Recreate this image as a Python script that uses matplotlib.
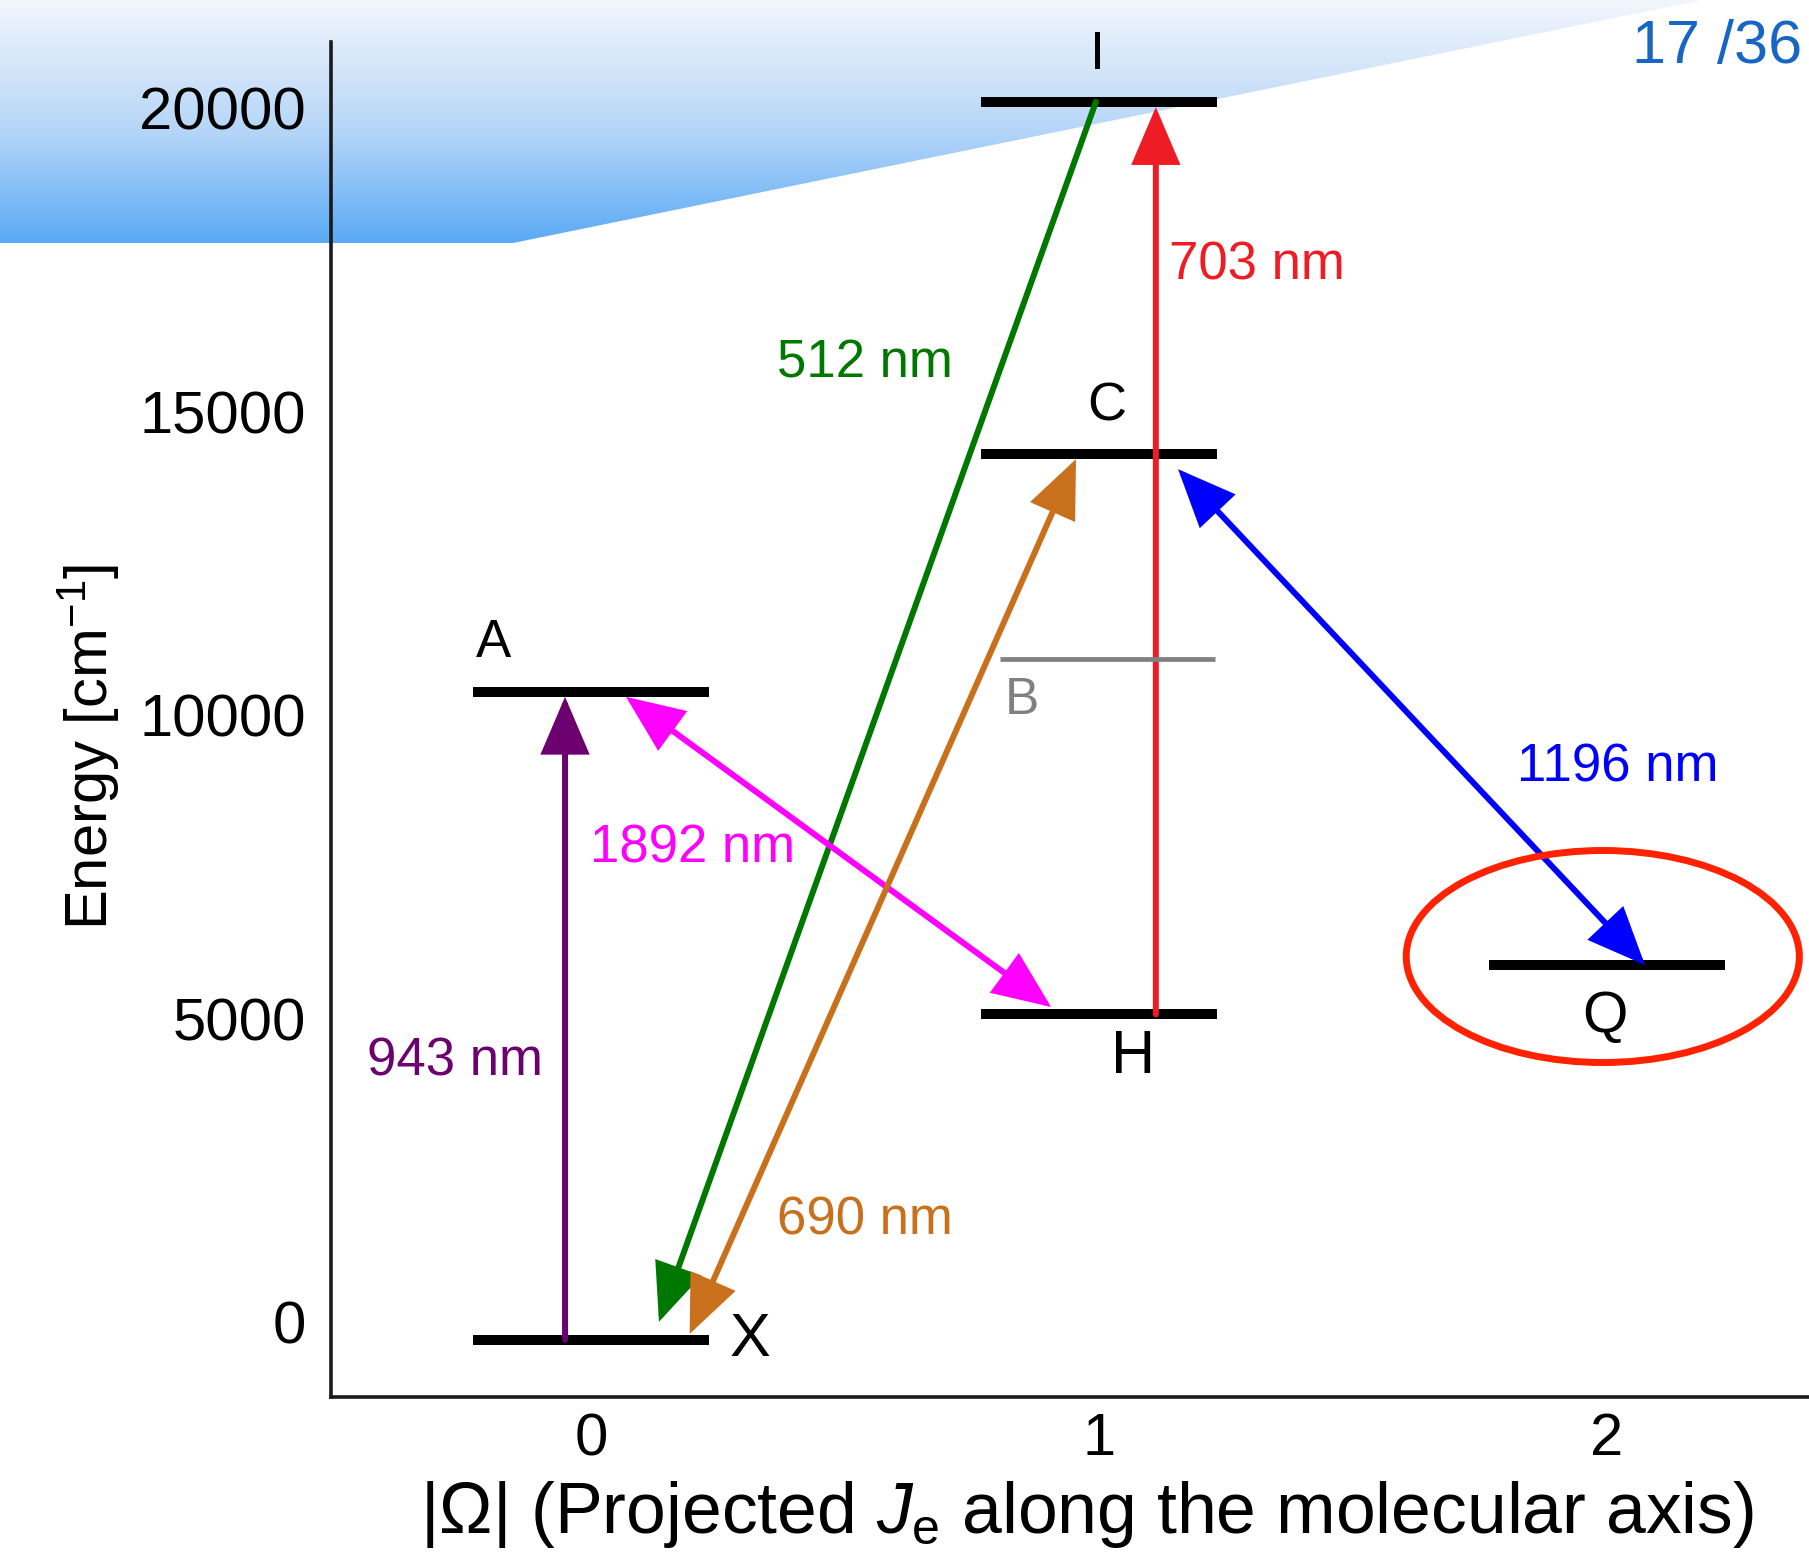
import numpy as np
import matplotlib
matplotlib.use('Agg')
import matplotlib.pyplot as plt
from matplotlib.patches import Ellipse, Polygon

plt.rcParams['font.family'] = ['Liberation Sans', 'DejaVu Sans']
plt.rcParams['mathtext.fontset'] = 'custom'
plt.rcParams['mathtext.rm'] = 'Liberation Sans'
plt.rcParams['mathtext.it'] = 'Liberation Sans:italic'

# ---------------- data ----------------
state_names = ['X', 'H', 'Q', 'A', 'B', 'C', 'I']
state_omega = [0, 1, 2, 0, 1, 1, 1]
state_energy = [-290, 5070, 5885, 10390, 10925, 14300, 20105]

transition_labels = ['943 nm', '512 nm', '703 nm', '1892 nm', '690 nm', '1196 nm']
transition_from = ['X', 'I', 'H', 'A', 'X', 'C']
transition_to = ['A', 'X', 'I', 'H', 'C', 'Q']
transition_double = [False, False, False, True, True, True]
transition_colors = ['#6B006E', '#007800', '#EE1C24', '#FF00FF', '#C8701C', '#0000FF']

y_ticks = [0, 5000, 10000, 15000, 20000]
x_ticks = [0, 1, 2]
page_label = '17 /36'

# ---------------- layout / style ----------------
W, H = 1809, 1553
fig = plt.figure(figsize=(W / 100, H / 100), dpi=100)

# background gradient banner (figure pixel coords)
bg = fig.add_axes([0, 0, 1, 1], zorder=0)
bg.set_xlim(0, W)
bg.set_ylim(H, 0)
bg.axis('off')
stops = np.array([0.0, 0.27, 0.55, 0.82, 1.0])
cols = np.array([[242, 246, 253], [213, 230, 250], [179, 213, 248],
                 [125, 187, 246], [90, 169, 245]]) / 255.0
t = np.linspace(0, 1, 256)
grad = np.stack([np.interp(t, stops, cols[:, k]) for k in range(3)], axis=-1)[:, None, :]
im = bg.imshow(grad, extent=(0, W, 243, 0), aspect='auto', interpolation='bilinear')
clip = Polygon([(0, 0), (1702, 0), (513, 243), (0, 243)], closed=True,
               transform=bg.transData, facecolor='none', edgecolor='none')
bg.add_patch(clip)
im.set_clip_path(clip)

ax = fig.add_axes([331 / W, 1 - 1397 / H, 1 - 331 / W, (1397 - 42) / H], zorder=1)
ax.set_facecolor('none')
ax.set_xlim(-0.512, 2.398)
ax.set_ylim(-1232, 21091)
for s in ['top', 'right']:
    ax.spines[s].set_visible(False)
for s in ['left', 'bottom']:
    ax.spines[s].set_linewidth(2.6)
    ax.spines[s].set_color('#1a1a1a')
ax.set_xticks(x_ticks)
ax.set_xticklabels([str(v) for v in x_ticks])
ax.set_yticks(y_ticks)
ax.set_yticklabels([str(v) for v in y_ticks])
ax.tick_params(axis='both', length=0, labelsize=43, colors='black')
ax.tick_params(axis='y', pad=18)
ax.tick_params(axis='x', pad=11)

E = dict(zip(state_names, state_energy))
OM = dict(zip(state_names, state_omega))

# levels
half_w = 0.232
for name in state_names:
    if name == 'B':
        ax.hlines(E[name], OM[name] - 0.195, OM[name] + 0.228, color='#808080',
                  lw=3.4, zorder=4)
    else:
        ax.hlines(E[name], OM[name] - half_w, OM[name] + half_w, color='black',
                  lw=7.2, zorder=2, capstyle='butt')

# level labels
lab_pos = {'I': (0.998, 20884, 39), 'C': (1.016, 15094, 39), 'A': (-0.193, 11189, 38),
           'B': (0.848, 10250, 37), 'H': (1.067, 4353, 44), 'Q': (1.996, 5028, 42),
           'X': (0.313, -293, 44)}
for name in state_names:
    x, y, fs = lab_pos[name]
    ax.text(x, y, name, fontsize=fs, ha='center', va='center',
            color='#808080' if name == 'B' else 'black', zorder=5, clip_on=False)

# arrows
arrow_x = [(-0.0512, -0.0512), (0.994, 0.121), (1.112, 1.112),
           (0.0545, 0.926), (0.189, 0.959), (1.128, 2.075)]
arrow_shrink = [(0, 3.8), (0, 13.8), (0, 3.8), (6.5, 9.2), (4.7, 3.9), (14.8, 0)]
for i in range(len(transition_labels)):
    (x0, x1) = arrow_x[i]
    sA, sB = arrow_shrink[i]
    style = ('<|-|>' if transition_double[i] else '-|>') + ',head_length=34,head_width=14.5'
    ax.annotate('', xy=(x1, E[transition_to[i]]), xytext=(x0, E[transition_from[i]]),
                arrowprops=dict(arrowstyle=style, color=transition_colors[i], lw=4.3,
                                shrinkA=sA, shrinkB=sB, mutation_scale=1,
                                joinstyle='miter'),
                zorder=3, annotation_clip=False)

# wavelength labels
wl_pos = [(-0.2685, 4297), (0.540, 15796), (1.312, 17410),
          (0.199, 7812), (0.540, 1674), (2.021, 9143)]
for i, lab in enumerate(transition_labels):
    ax.text(wl_pos[i][0], wl_pos[i][1], lab, fontsize=38, ha='center', va='center',
            color=transition_colors[i], zorder=5)

# highlighted Q state
ax.add_patch(Ellipse((1.992, 6025), 0.774, 3493, fill=False, edgecolor='#FF2200',
                     lw=5, zorder=4, clip_on=False))

# axis labels
fig.text(89 / W, 1 - 747 / H, 'Energy [cm$^{-1}$]', rotation=90, fontsize=43,
         ha='center', va='center')
fig.text(1087 / W, 1 - 1533 / H, r'|Ω| (Projected $J_{\mathrm{e}}$ along the molecular axis)',
         fontsize=51.5, ha='center', va='baseline')
fig.text(1802 / W, 1 - 47 / H, page_label, fontsize=44, ha='right', va='center',
         color='#1766C4')

fig.savefig('out.png', dpi=100)
